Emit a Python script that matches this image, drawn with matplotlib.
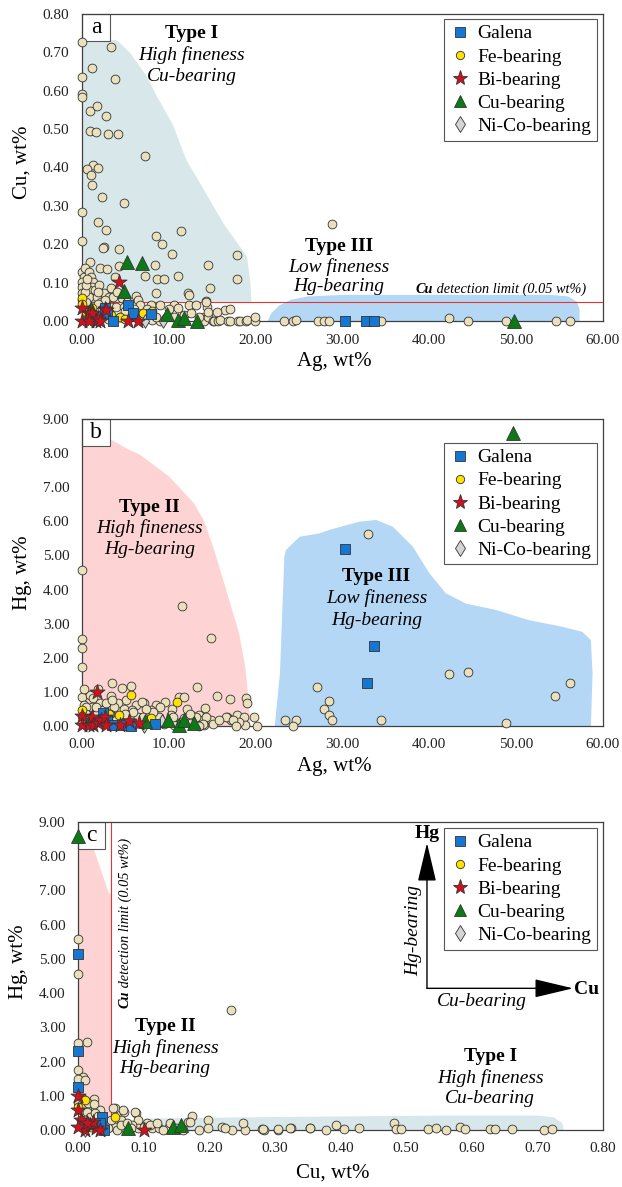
import numpy as np
import matplotlib
matplotlib.use('Agg')
import matplotlib.pyplot as plt
from matplotlib.lines import Line2D
from matplotlib.patches import Rectangle

plt.rcParams['font.family'] = ['Liberation Serif', 'DejaVu Serif']

# ---------------- panel a : Ag (x) vs Cu (y), wt% ----------------
A_OTHER = [
    (0, 0.726), (3.3, 0.713), (1.2, 0.660), (0, 0.637), (3.8, 0.631), (0, 0.591), (0, 0.584),
    (0.95, 0.548), (1.7, 0.561), (2.8, 0.535), (0.95, 0.495), (1.6, 0.492), (3.0, 0.487),
    (4.2, 0.487), (7.2, 0.429), (1.3, 0.407), (1.9, 0.400), (0.6, 0.395), (1.0, 0.380),
    (1.15, 0.354), (2.3, 0.322), (0, 0.283), (4.8, 0.307), (1.85, 0.258), (2.8, 0.237),
    (0, 0.208), (8.5, 0.221), (9.2, 0.200), (11.4, 0.234), (10.4, 0.175), (2.5, 0.194),
    (2.45, 0.19), (4.3, 0.187), (17.8, 0.171), (14.5, 0.145), (0.9, 0.154), (2.1, 0.139),
    (2.9, 0.135), (4.3, 0.144), (8.4, 0.145), (7.3, 0.116), (8.6, 0.109), (9.4, 0.109),
    (11.1, 0.118), (17.8, 0.109), (14.7, 0.087), (8.5, 0.072), (12.2, 0.072), (12.3, 0.068),
    (14.3, 0.053), (16.5, 0.029), (3.8, 0.115), (6.2, 0.066), (28.8, 0.253),
    (0, 0.128), (0.2, 0.115), (0, 0.102), (0, 0.089), (0.4, 0.137), (0.8, 0.128), (1.0, 0.115),
    (1.3, 0.102), (1.15, 0.089), (0.8, 0.081), (1.5, 0.081), (0, 0.072), (0.8, 0.063),
    (1.7, 0.063), (2.5, 0.072), (3.1, 0.063), (3.3, 0.085), (3.6, 0.063), (4.0, 0.075),
    (0, 0.055), (0.3, 0.075), (0.5, 0.095), (2.0, 0.095), (2.2, 0.05), (0.6, 0.11), (1.8, 0.075),
    (2.6, 0.055), (4.6, 0.06), (5.2, 0.05),
    (2.7, 0.011), (3.3, 0.037), (3.9, 0.037), (4.4, 0.011), (4.8, 0.037), (5.6, 0.016),
    (6.4, 0.055), (6.7, 0.042), (6.7, 0.016), (7.1, 0.003), (7.9, 0.042), (8.1, 0.003),
    (9.0, 0.042), (9.0, 0.0), (10.6, 0.042), (10.6, 0.011), (11.7, 0.016), (12.3, 0.042),
    (13.1, 0.042), (14.0, 0.011), (14.4, 0.037), (14.3, 0.05), (14.1, 0.0), (14.5, 0.011),
    (14.5, 0.024), (15.1, 0.0), (15.2, 0.0), (15.6, 0.024), (15.7, 0.0), (15.9, 0.003),
    (16.8, 0.0), (17.0, 0.0), (17.0, 0.031), (18.0, 0.0), (18.2, 0.0), (18.9, 0.0),
    (19.0, 0.003), (19.9, 0.0), (19.9, 0.011), (1.0, 0.04), (0.5, 0.05), (1.8, 0.045),
    (2.3, 0.03), (3.0, 0.005), (5.0, 0.025), (6.0, 0.03), (7.5, 0.03), (8.5, 0.01),
    (10.0, 0.03), (11.0, 0.035), (12.5, 0.02), (13.5, 0.01),
    (23.3, 0.0), (24.3, 0.0), (24.7, 0.003), (27.2, 0.0), (27.9, 0.0), (28.5, 0.0),
    (34.4, 0.0), (42.3, 0.007), (44.5, 0.0), (48.8, 0.0), (54.6, 0.0), (56.2, 0.0),
]
A_GALENA = [(2.6, 0.033), (2.9, 0.022), (3.6, 0.0), (5.3, 0.042), (5.85, 0.02), (7.9, 0.017),
            (30.3, 0.0), (32.7, 0.0), (33.6, 0.0)]
A_FE = [(0, 0.06), (0, 0.045), (0.5, 0.02), (1.2, 0.035), (3.3, 0.015), (4.4, 0.01),
        (7.0, 0.02), (8.1, 0.025), (5.0, 0.005)]
A_BI = [(0, 0.035), (0, 0.0), (0.8, 0.02), (1.2, 0.02), (1.6, 0.0), (0.8, 0.0), (1.9, 0.005),
        (2.1, 0.0), (2.6, 0.03), (2.8, 0.028), (4.3, 0.102), (5.3, 0.0), (6.4, 0.0)]
A_CU = [(1.0, 0.03), (4.8, 0.078), (5.2, 0.155), (6.9, 0.150), (9.8, 0.017), (11.1, 0.003),
        (11.8, 0.007), (13.2, 0.0), (49.8, 0.0)]
A_NICO = [(7.2, 0.0), (9.3, 0.0)]

# ---------------- panel b : Ag (x) vs Hg (y), wt% ----------------
B_OTHER = [
    (0, 4.57), (0, 2.54), (0, 2.30), (0, 1.73), (11.5, 3.53), (14.9, 2.57), (3.5, 1.27),
    (4.6, 1.12), (5.6, 1.17), (13.3, 1.15), (15.6, 0.88), (17.1, 0.78), (18.9, 0.82),
    (19.0, 0.68), (11.2, 0.85), (11.8, 0.85), (0, 0.85), (0.96, 0.92), (1.9, 1.08),
    (3.5, 0.72), (5.1, 0.75), (6.2, 0.61), (7.1, 0.66), (8.5, 0.61), (9.6, 0.71),
    (10.4, 0.51), (12.1, 0.51), (14.2, 0.53), (16.7, 0.26), (17.85, 0.31), (18.7, 0.26),
    (19.8, 0.26), (18.8, 0.02), (20.1, 0.0), (17.2, 0.17), (13.45, 0.31), (13.9, 0.17),
    (14.9, 0.17), (14.1, 0.02), (12.5, 0.31), (1.3, 0.83), (3.3, 0.88), (2.1, 0.68),
    (4.2, 0.68), (6.9, 0.71), (3.7, 0.56), (4.8, 0.51), (5.8, 0.46), (7.9, 0.46),
    (9.0, 0.56), (0.2, 0.63), (1.15, 0.56), (2.5, 0.51), (6.5, 0.26), (8.7, 0.26),
    (10.2, 0.31), (11.7, 0.22), (3.3, 0.31), (4.8, 0.22), (5.8, 0.12), (9.4, 0.07),
    (10.6, 0.02), (0.2, 1.08), (16.6, 0.26), (18.1, 0.12), (13.1, 0.26), (14.3, 0.26),
    (13.9, 0.07), (15.1, 0.07), (12.4, 0.36), (8.9, 0.26), (8.2, 0.41), (7.4, 0.51),
    (7.0, 0.26), (5.9, 0.41), (4.9, 0.36), (3.9, 0.26), (3.2, 0.36), (2.4, 0.46),
    (1.6, 0.56), (0.5, 0.56), (0.5, 0.36), (10.5, 0.26), (11.4, 0.12), (13.5, 0.0),
    (15.8, 0.17), (17.4, 0.17), (17.7, 0.0), (2.8, 0.66), (3.4, 0.75),
    (23.4, 0.17), (24.6, 0.17), (24.3, 0.0), (27.1, 1.15), (28.5, 0.74), (27.9, 0.51),
    (28.5, 0.33), (28.8, 0.17), (32.9, 5.62), (34.4, 0.17), (42.3, 1.52), (44.5, 1.57),
    (48.8, 0.10), (54.5, 0.88), (56.2, 1.26),
]
B_GALENA = [(2.4, 0.38), (2.9, 0.17), (3.5, 0.02), (4.6, 0.02), (5.6, 0.0), (8.35, 0.07),
            (30.3, 5.18), (32.8, 1.25), (33.6, 2.34)]
B_FE = [(0, 0.46), (0, 0.3), (3.1, 0.36), (4.3, 0.33), (5.6, 0.9), (7.9, 0.23), (10.9, 0.69),
        (1.2, 0.1)]
B_BI = [(0, 0.3), (0, 0.02), (0.8, 0.02), (1.2, 0.26), (1.3, 0.02), (1.7, 1.0), (1.9, 0.1),
        (2.2, 0.17), (2.6, 0.26), (2.8, 0.04), (4.4, 0.02), (5.4, 0.14), (6.6, 0.1)]
B_CU = [(0.9, 0.2), (7.3, 0.15), (9.96, 0.17), (11.2, 0.02), (11.8, 0.17), (12.95, 0.1),
        (49.6, 8.6)]
B_NICO = [(7.1, 0.0), (9.2, 0.15)]

# ---------------- panel c : Cu (x) vs Hg (y), wt% ----------------
C_OTHER = [
    (0, 5.59), (0, 4.55), (0, 2.53), (0.014, 2.56), (0, 1.75), (0.008, 1.56), (0.233, 3.5),
    (0.024, 0.92), (0.013, 0.68), (0.033, 0.58), (0.056, 0.63), (0.07, 0.53), (0.089, 0.49),
    (0.174, 0.41), (0.198, 0.29), (0.168, 0.24), (0.185, 0.0), (0.198, 0.05), (0.22, 0.08),
    (0.235, 0.0), (0.254, 0.0), (0.251, 0.19), (0.284, 0.0), (0.305, 0.0), (0.324, 0.05),
    (0.353, 0.05), (0.054, 0.63), (0.069, 0.58), (0.087, 0.53), (0.066, 0.29), (0.092, 0.29),
    (0.105, 0.2), (0.112, 0.05), (0.124, 0.05), (0.138, 0.1), (0.17, 0.24), (0.224, 0.05),
    (0.28, 0.02), (0.071, 0.05), (0.057, 0.1), (0.092, 0.05), (0.082, 0.15), (0.05, 0.29),
    (0, 0.83), (0.006, 0.68), (0.013, 0.53), (0.018, 0.39), (0.026, 0.49), (0.011, 0.29),
    (0.021, 0.2), (0.031, 0.15), (0.006, 0.93), (0.282, 0.02), (0.304, 0.02), (0.323, 0.07),
    (0.353, 0.07), (0.378, 0.0), (0.393, 0.15), (0.406, 0.03), (0.428, 0.07), (0.482, 0.2),
    (0.484, 0.02), (0.492, 0.02), (0.533, 0.02), (0.545, 0.07), (0.56, 0.0), (0.582, 0.08),
    (0.589, 0.03), (0.628, 0.02), (0.636, 0.02), (0.661, 0.02), (0.71, 0.0), (0.723, 0.03),
    (0, 1.5), (0.01, 1.45), (0, 1.2), (0.015, 0.8), (0.025, 0.75), (0.03, 0.4), (0.04, 0.1),
    (0.045, 0.05), (0.06, 0.0), (0.065, 0.15), (0.075, 0.2), (0.08, 0.05), (0.1, 0.1),
    (0.11, 0.15), (0.13, 0.0), (0.15, 0.05), (0.16, 0.0), (0.12, 0.2), (0.14, 0.2),
]
C_GALENA = [(0, 5.14), (0, 2.32), (0, 1.26), (0.037, 0.37), (0.039, 0.0), (0.034, 0.2)]
C_FE = [(0, 0.66), (0.01, 0.88), (0.056, 0.39), (0.005, 0.3), (0.02, 0.1)]
C_BI = [(0, 0.99), (0, 0.58), (0.005, 0.29), (0.01, 0.0), (0.018, 0.15), (0.028, 0.05),
        (0.023, 0.24), (0.033, 0.0), (0.013, 0.19), (0, 0.1), (0.1, 0.0)]
C_CU = [(0, 8.58), (0.076, 0.05), (0.145, 0.1), (0.157, 0.15)]
C_NICO = [(0.01, 0.0)]

# outlines of the shaded compositional fields (data units)
A_TYPE1 = [(0, 0.05), (19.5, 0.05), (19.4, 0.098), (19.0, 0.167), (18.2, 0.193), (16.3, 0.254),
           (13.6, 0.359), (12.0, 0.42), (10.5, 0.51), (8.66, 0.584), (7.5, 0.636), (5.6, 0.697),
           (4.5, 0.722), (3.9, 0.732), (0, 0.732)]
A_TYPE3 = [(21.4, 0), (21.8, 0.02), (22.7, 0.04), (24, 0.055), (26, 0.064), (30, 0.068),
           (54, 0.068), (56, 0.064), (57, 0.05), (57.3, 0.03), (57.3, 0)]
B_TYPE2 = [(0, 0), (0, 8.75), (1.5, 8.7), (3.0, 8.45), (5, 8.15), (6.7, 7.95), (10, 7.32),
           (12.9, 6.53), (14, 6.04), (15.1, 5.26), (16.6, 3.99), (18.1, 2.71), (18.8, 1.73),
           (19.2, 0.75), (19.4, 0)]
B_TYPE3 = [(22.2, 0), (22.8, 1.55), (23.3, 4.96), (23.5, 5.16), (24.3, 5.36), (25.1, 5.55),
           (27.4, 5.65), (28.5, 5.75), (31.95, 5.99), (33.9, 6.04), (35.8, 5.84), (38.1, 5.26),
           (40.0, 4.48), (41.9, 3.89), (44.2, 3.59), (47.7, 3.40), (51.5, 3.10), (55.3, 2.91),
           (57.6, 2.76), (58.6, 2.52), (58.8, 1.54), (58.6, 0)]
C_TYPE2 = [(0, 0), (0, 9), (0.010, 9), (0.047, 6.92), (0.05, 6.9), (0.05, 0)]
C_TYPE1 = [(0.09, 0), (0.09, 0.33), (0.3, 0.38), (0.55, 0.42), (0.70, 0.42), (0.725, 0.37),
           (0.738, 0.2), (0.74, 0)]

BEIGE = '#EAE0BC'
BLUE = '#1677D2'
YELLOW = '#FFE100'
RED = '#D2101C'
GREEN = '#0B7A14'
GREY = '#D4D4D4'
EDGE = '#333333'
F_TYPE1 = '#D8E7E9'
F_TYPE3 = '#B3D7F5'
F_TYPE2 = '#FDD4D3'
LIMIT = '#E8352F'

W, H = 622, 1187
fig = plt.figure(figsize=(W / 100, H / 100), dpi=100)


def add_ax(l, t, r, b):
    return fig.add_axes([l / W, 1 - b / H, (r - l) / W, (b - t) / H])


ax_a = add_ax(82, 14, 603, 321)
ax_b = add_ax(82, 419, 603, 726)
ax_c = add_ax(78, 822, 603, 1130)


def style(ax, xmax, xstep, ymax, ystep, xlabel, ylabel, xlab_y, ylab_y, xlab_x):
    ax.set_xlim(0, xmax)
    ax.set_ylim(0, ymax)
    ax.set_xticks(np.arange(0, xmax + xstep / 2, xstep))
    ax.set_yticks(np.arange(0, ymax + ystep / 2, ystep))
    ax.xaxis.set_major_formatter('{x:.2f}')
    ax.yaxis.set_major_formatter('{x:.2f}')
    ax.tick_params(length=0, labelsize=11, pad=9, colors='#222222')
    for s in ax.spines.values():
        s.set_color('#404040')
        s.set_linewidth(0.9)
    ax.set_xlabel(xlabel, fontsize=15)
    ax.set_ylabel(ylabel, fontsize=15)
    ax.xaxis.set_label_coords(xlab_x, xlab_y)
    ax.yaxis.set_label_coords(-0.096, ylab_y)


def region(ax, pts, color):
    x, y = np.array(pts).T
    ax.fill(x, y, color=color, lw=0, zorder=1)


def points(ax, other, gal, fe, bi, cu, nico):
    def sc(pts, **kw):
        x, y = np.array(pts, dtype=float).T
        ax.scatter(x, y, clip_on=False, edgecolors=EDGE, linewidths=0.6, **kw)
    sc(other, s=40, marker='o', c=BEIGE, zorder=3)
    sc(fe, s=40, marker='o', c=YELLOW, zorder=4)
    sc(nico, s=48, marker='d', c=GREY, zorder=4)
    sc(gal, s=48, marker='s', c=BLUE, zorder=5)
    sc(cu, s=100, marker='^', c=GREEN, zorder=6)
    sc(bi, s=130, marker='*', c=RED, zorder=7)


def legend(ax, fx, fy):
    kw = dict(ls='none', mec=EDGE, mew=0.6)
    handles = [
        Line2D([], [], marker='s', ms=7, mfc=BLUE, label='Galena', **kw),
        Line2D([], [], marker='o', ms=6, mfc=YELLOW, label='Fe-bearing', **kw),
        Line2D([], [], marker='*', ms=11, mfc=RED, label='Bi-bearing', **kw),
        Line2D([], [], marker='^', ms=9, mfc=GREEN, label='Cu-bearing', **kw),
        Line2D([], [], marker='d', ms=8, mfc=GREY, label='Ni-Co-bearing', **kw),
    ]
    leg = ax.legend(handles=handles, loc='upper right', bbox_to_anchor=(fx, fy),
                    borderaxespad=0, fontsize=14, frameon=True, fancybox=False,
                    edgecolor='#555555', framealpha=1, handlelength=1.0,
                    handletextpad=0.4, labelspacing=0.28, borderpad=0.3)
    leg.get_frame().set_linewidth(0.8)
    leg.set_zorder(9)


def tag(ax, letter, wpx, hpx, axw, axh):
    ax.add_patch(Rectangle((0, 1 - hpx / axh), wpx / axw, hpx / axh, transform=ax.transAxes,
                           fc='white', ec='#555555', lw=0.8, zorder=2.5, clip_on=False))
    ax.text(wpx / axw / 2, 1 - hpx / axh / 2, letter, transform=ax.transAxes,
            ha='center', va='center', fontsize=17, zorder=2.6)


def type_label(ax, x, y0, y1, y2, title, l1, l2):
    ax.text(x, y0, title, ha='center', va='center', fontsize=14, weight='bold', zorder=8)
    ax.text(x, y1, l1, ha='center', va='center', fontsize=14, style='italic', zorder=8)
    ax.text(x, y2, l2, ha='center', va='center', fontsize=14, style='italic', zorder=8)


# ---------- panel a ----------
region(ax_a, A_TYPE1, F_TYPE1)
region(ax_a, A_TYPE3, F_TYPE3)
ax_a.axhline(0.05, color=LIMIT, lw=0.8, zorder=2)
points(ax_a, A_OTHER, A_GALENA, A_FE, A_BI, A_CU, A_NICO)
style(ax_a, 60, 10, 0.8, 0.1, 'Ag, wt%', 'Cu, wt%', -0.101, 0.516, 0.484)
legend(ax_a, 0.9885, 0.9837)
tag(ax_a, 'a', 28, 27, 521, 307)
type_label(ax_a, 12.6, 0.749, 0.693, 0.636, 'Type I', 'High fineness', 'Cu-bearing')
type_label(ax_a, 29.6, 0.193, 0.141, 0.089, 'Type III', 'Low fineness', 'Hg-bearing')
t = ax_a.text(58.0, 0.083, ' detection limit (0.05 wt%)', style='italic', fontsize=10.3,
              ha='right', va='center', zorder=8)
ax_a.annotate('Cu', xy=(0, 0), xycoords=t, ha='right', va='bottom', fontsize=10.3,
              style='italic', weight='bold', zorder=8)

# ---------- panel b ----------
region(ax_b, B_TYPE2, F_TYPE2)
region(ax_b, B_TYPE3, F_TYPE3)
points(ax_b, B_OTHER, B_GALENA, B_FE, B_BI, B_CU, B_NICO)
style(ax_b, 60, 10, 9, 1, 'Ag, wt%', 'Hg, wt%', -0.101, 0.5, 0.484)
legend(ax_b, 0.9885, 0.922)
tag(ax_b, 'b', 28, 27, 521, 307)
type_label(ax_b, 7.8, 6.42, 5.81, 5.16, 'Type II', 'High fineness', 'Hg-bearing')
type_label(ax_b, 33.9, 4.38, 3.75, 3.10, 'Type III', 'Low fineness', 'Hg-bearing')

# ---------- panel c ----------
region(ax_c, C_TYPE2, F_TYPE2)
region(ax_c, C_TYPE1, F_TYPE1)
ax_c.axvline(0.05, color=LIMIT, lw=0.8, zorder=2)
points(ax_c, C_OTHER, C_GALENA, C_FE, C_BI, C_CU, C_NICO)
style(ax_c, 0.8, 0.1, 9, 1, 'Cu, wt%', 'Hg, wt%', -0.110, 0.546, 0.486)
legend(ax_c, 0.9886, 0.9805)
tag(ax_c, 'c', 27, 27, 525, 308)
type_label(ax_c, 0.1326, 3.02, 2.38, 1.80, 'Type II', 'High fineness', 'Hg-bearing')
type_label(ax_c, 0.628, 2.14, 1.51, 0.93, 'Type I', 'High fineness', 'Cu-bearing')
t = ax_c.text(0.0716, 3.56, 'Cu', rotation=90, ha='center', va='bottom', fontsize=10.3,
              style='italic', weight='bold', zorder=8)
ax_c.annotate(' detection limit (0.05 wt%)', xy=(0.5, 1), xycoords=t, rotation=90,
              ha='center', va='bottom', fontsize=10.3, style='italic', zorder=8)

# Hg / Cu direction arrows
arr = dict(arrowstyle='-|>,head_length=1.22,head_width=0.29', mutation_scale=20,
           color='black', lw=1, shrinkA=0, shrinkB=0)
ax_c.annotate('', xy=(0.6647, 0.932), xytext=(0.6647, 0.460), xycoords='axes fraction',
              arrowprops=arr, zorder=8)
ax_c.annotate('', xy=(0.943, 0.460), xytext=(0.6647, 0.460), xycoords='axes fraction',
              arrowprops=arr, zorder=8)
ax_c.text(0.6655, 0.964, 'Hg', transform=ax_c.transAxes, ha='center', va='center',
          fontsize=14, weight='bold')
ax_c.text(0.969, 0.455, 'Cu', transform=ax_c.transAxes, ha='center', va='center',
          fontsize=14, weight='bold')
ax_c.text(0.6387, 0.649, 'Hg-bearing', transform=ax_c.transAxes, ha='center', va='center',
          fontsize=14, style='italic', rotation=90)
ax_c.text(0.769, 0.417, 'Cu-bearing', transform=ax_c.transAxes, ha='center', va='center',
          fontsize=14, style='italic')

fig.savefig('out.png', dpi=100)
